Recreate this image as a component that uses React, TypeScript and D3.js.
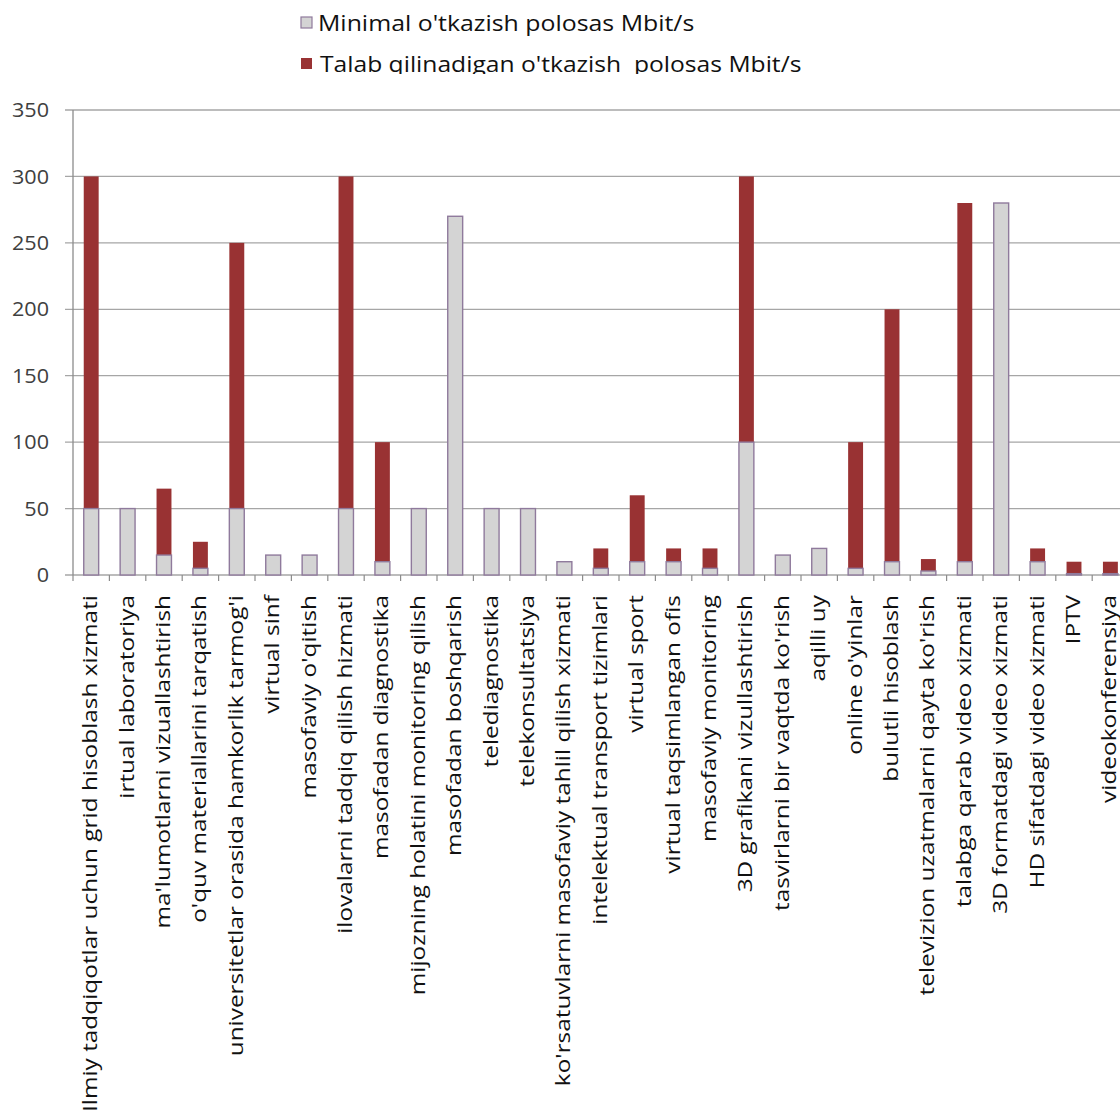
import React from "react";
import * as d3 from "d3";

const categories = [
  "Ilmiy tadqiqotlar uchun grid hisoblash xizmati",
  "irtual laboratoriya",
  "ma'lumotlarni vizuallashtirish",
  "o'quv materiallarini tarqatish",
  "universitetlar orasida hamkorlik tarmog'i",
  "virtual sinf",
  "masofaviy o'qitish",
  "ilovalarni tadqiq qilish hizmati",
  "masofadan diagnostika",
  "mijozning holatini monitoring qilish",
  "masofadan boshqarish",
  "telediagnostika",
  "telekonsultatsiya",
  "ko'rsatuvlarni masofaviy tahlil qilish xizmati",
  "intelektual transport tizimlari",
  "virtual sport",
  "virtual taqsimlangan ofis",
  "masofaviy monitoring",
  "3D grafikani vizullashtirish",
  "tasvirlarni bir vaqtda ko'rish",
  "aqilli uy",
  "online o'yinlar",
  "bulutli hisoblash",
  "televizion uzatmalarni qayta ko'rish",
  "talabga qarab video xizmati",
  "3D formatdagi video xizmati",
  "HD sifatdagi video xizmati",
  "IPTV",
  "videokonferensiya",
];

// Minimal bandwidth (grey)
const minimalValues = [50, 50, 15, 5, 50, 15, 15, 50, 10, 50, 270, 50, 50, 10, 5, 10, 10, 5, 100, 15, 20, 5, 10, 3, 10, 280, 10, 1, 1];
// Required bandwidth (red, top of bar)
const requiredValues = [300, 50, 65, 25, 250, 15, 15, 300, 100, 50, 270, 50, 50, 10, 20, 60, 20, 20, 300, 15, 20, 100, 200, 12, 280, 280, 20, 10, 10];

const yTicks = [0, 50, 100, 150, 200, 250, 300, 350];

const legendLabels = [
  "Minimal o'tkazish polosas Mbit/s",
  "Talab qilinadigan o'tkazish\u00a0 polosas Mbit/s",
];

const W = 1120;
const H = 1115;
const left = 73;
const step = 36.4;
const y0 = 575;
const yTop = 110;

const FONT = "'Open Sans', sans-serif";
const GREY = "#d4d4d4";
const GREY_STROKE = "#8f7a9c";
const RED = "#993233";

export default function App() {
  const x = d3
    .scaleBand<string>()
    .domain(categories)
    .range([left, left + step * categories.length])
    .paddingInner(0.59)
    .paddingOuter(0.295);
  const y = d3.scaleLinear().domain([0, 350]).range([y0, yTop]);
  const bw = x.bandwidth();

  return (
    <svg
      width={W}
      height={H}
      style={{ position: "absolute", left: 0, top: 0, background: "#fff" }}
      fontFamily={FONT}
    >
      <defs>
        <clipPath id="legclip">
          <rect x={0} y={0} width={W} height={74} />
        </clipPath>
      </defs>
      <rect x={0} y={0} width={W} height={H} fill="#fff" />
      {/* Legend */}
      <g clipPath="url(#legclip)">
        <rect x={301} y={17} width={11} height={11} fill={GREY} stroke={GREY_STROKE} strokeWidth={1.2} />
        <text transform="translate(318,31) scale(1.13,1)" fontSize={22} fill="#111">
          {legendLabels[0]}
        </text>
        <rect x={301} y={58} width={11} height={11} fill={RED} />
        <text transform="translate(320,72) scale(1.12,1)" fontSize={22} fill="#111">
          {legendLabels[1]}
        </text>
      </g>
      {/* Gridlines and y ticks */}
      {yTicks.map((t) => (
        <g key={t}>
          <line x1={65} x2={W} y1={y(t)} y2={y(t)} stroke="#a6a6a6" strokeWidth={1.3} />
          <text
            transform={`translate(49,${y(t)}) scale(1.08,1)`}
            dy="0.36em"
            textAnchor="end"
            fontSize={20}
            fill="#404040"
          >
            {t}
          </text>
        </g>
      ))}
      {/* y axis line */}
      <line x1={left} x2={left} y1={yTop} y2={y0} stroke="#8c8c8c" strokeWidth={1.3} />
      {/* x category ticks */}
      {categories.map((c, i) => {
        const bx = (x(c) as number) - (x.step() - bw) / 2;
        return <line key={"t" + i} x1={bx} x2={bx} y1={y0} y2={y0 + 6} stroke="#8c8c8c" strokeWidth={1.2} />;
      })}
      {/* Bars */}
      {categories.map((c, i) => {
        const bx = x(c) as number;
        const mn = minimalValues[i];
        const rq = requiredValues[i];
        return (
          <g key={c}>
            {rq > mn && (
              <rect x={bx} y={y(rq)} width={bw} height={y(mn) - y(rq)} fill={RED} />
            )}
            <rect
              x={bx}
              y={y(mn)}
              width={bw}
              height={y0 - y(mn)}
              fill={GREY}
              stroke={GREY_STROKE}
              strokeWidth={1.4}
            />
          </g>
        );
      })}
      {/* Category labels */}
      {categories.map((c) => {
        const cx = (x(c) as number) + bw / 2;
        return (
          <text
            key={"l" + c}
            transform={`translate(${cx - 1},595) rotate(-90) scale(1.25,1)`}
            textAnchor="end"
            dy="0.36em"
            fontSize={19.5}
            fill="#111"
          >
            {c}
          </text>
        );
      })}
    </svg>
  );
}
